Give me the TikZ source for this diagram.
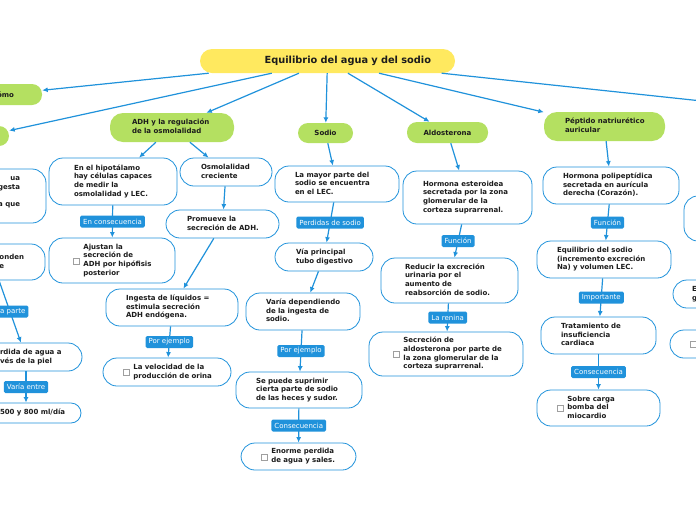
\documentclass[tikz,border=0pt]{standalone}
\usepackage{fontspec}
\setmainfont{DejaVu Sans}
\usetikzlibrary{%
        arrows.meta,
    }
\definecolor{mmblue}{HTML}{2092DB}
\definecolor{mmgreen}{HTML}{B4E061}
\definecolor{mmyellow}{HTML}{FFE95F}
\definecolor{ink}{HTML}{1C1C1C}
\newcommand{\ml}[1]{\begin{tabular}{@{}l@{}}#1\end{tabular}}
\newcommand{\mr}[1]{\begin{tabular}{@{}r@{}}#1\end{tabular}}
\newcommand{\chk}{%
    \raisebox{-1.7pt}{\setlength{\fboxsep}{0pt}\setlength{\fboxrule}{.7pt}%
    \fcolorbox{gray!75}{white}{\rule{0pt}{5.5pt}\hspace{5.5pt}}}}
\newcommand{\cml}[1]{\mbox{\chk\hspace{3.5pt}\ml{#1}}}
\newcommand{\bodyfont}{\fontsize{7}{8.7}\selectfont\bfseries}
\tikzset{%
    rootbox/.style={%
        fill=mmyellow,
        rounded corners=12pt,
        minimum height=24pt,
        inner ysep=0pt,
        align=right,
        text=ink,
        font=\fontsize{9.8}{11}\selectfont\bfseries,
    },
    idea/.style={%
        fill=mmgreen,
        rounded corners=10pt,
        inner ysep=0pt,
        text=ink,
        font=\bodyfont,
    },
    topic/.style={%
        draw=mmblue,
        line width=.8pt,
        fill=white,
        rounded corners=14pt,
        inner ysep=0pt,
        inner xsep=20pt,
        align=left,
        text=ink,
        font=\bodyfont,
    },
    tag/.style={%
        fill=mmblue,
        text=white,
        rounded corners=1.5pt,
        inner xsep=3pt,
        inner ysep=0pt,
        minimum height=12pt,
        font=\fontsize{7}{8}\selectfont,
    },
    conn/.style={%
        draw=mmblue,
        line width=1.2pt,
        -{Latex[length=5.5pt, width=5pt]},
    },
}

\begin{document}
\begin{tikzpicture}[x=1pt, y=-1pt]

    \path[use as bounding box, fill=white] (0, 0) rectangle (696, 520);

    %%%%%%%%%%%%%%%%%
    % Central topic %
    %%%%%%%%%%%%%%%%%
    \node[rootbox, text width=207pt, inner xsep=24pt]
        (root) at (327.5, 61) {Equilibrio del agua y del sodio};

    % Main branches
    \node[idea, align=right, text width=26pt, inner xsep=28pt, minimum height=21pt]
        (omo) at (1, 94.5) {ómo};
    \node[idea, minimum width=49pt, minimum height=20pt]
        (left2) at (-15.5, 136) {};
    \node[idea, align=left, text width=80pt, inner xsep=22pt,
        minimum height=29pt, rounded corners=13pt]
        (adh) at (172, 127.5) {\ml{ADH y la regulación\\de la osmolalidad}};
    \node[idea, minimum width=55pt, minimum height=20pt]
        (sodio) at (325.5, 133) {Sodio};
    \node[idea, minimum width=81pt, minimum height=21pt]
        (aldo) at (447.5, 132.5) {Aldosterona};
    \node[idea, align=left, text width=79pt, inner xsep=21pt,
        minimum height=29pt, rounded corners=13pt]
        (peptido) at (604.5, 126.5) {\ml{Péptido natriurético\\auricular}};
    \coordinate (rend) at (730, 104);

    %%%%%%%%%%%%%%%
    % Left border %
    %%%%%%%%%%%%%%%
    \node[topic, align=right, text width=44pt, inner xsep=26pt, minimum height=54pt]
        (leftA) at (-2, 196) {\mr{ua\\gesta\\\mbox{}\\a que\\\mbox{}}};
    \node[topic, align=right, text width=63pt, inner xsep=21pt, minimum height=36pt]
        (leftB) at (-7.5, 262) {\ml{onden\\e}};
    \node[topic, text width=52pt, inner xsep=30pt, minimum height=28pt]
        (perdida) at (26, 357) {\ml{rdida de agua a\\vés de la piel}};
    \node[topic, text width=52pt, inner xsep=29pt, minimum height=20pt,
        rounded corners=10pt]
        (rango) at (26, 413) {\ml{500 y 800 ml/día}};

    %%%%%%%
    % ADH %
    %%%%%%%
    \node[topic, text width=78pt, inner xsep=25pt, minimum height=47pt]
        (hipo) at (113, 181.5)
        {\ml{En el hipotálamo\\hay células capaces\\de medir la\\osmolalidad y LEC.}};
    \node[topic, text width=78pt, inner xsep=24pt, minimum height=45pt]
        (ajustan) at (112, 260.5)
        {\cml{Ajustan la\\secreción de\\ADH por hipófisis\\posterior}};
    \node[topic, text width=50pt, inner xsep=21pt, minimum height=28pt]
        (osmo) at (226, 172) {\ml{Osmolalidad\\creciente}};
    \node[topic, text width=71pt, inner xsep=21pt, minimum height=28pt]
        (promueve) at (222.5, 224) {\ml{Promueve la\\secreción de ADH.}};
    \node[topic, text width=92pt, minimum height=37pt]
        (ingesta) at (172, 307.5)
        {\ml{Ingesta de líquidos =\\estimula secreción\\ADH endógena.}};
    \node[topic, text width=88pt, minimum height=28pt]
        (velocidad) at (167, 372)
        {\cml{La velocidad de la\\producción de orina}};

    %%%%%%%%%
    % Sodio %
    %%%%%%%%%
    \node[topic, text width=84pt, minimum height=36pt]
        (lec) at (337, 184)
        {\ml{La mayor parte del\\sodio se encuentra\\en el LEC.}};
    \node[topic, text width=56pt, inner xsep=21pt, minimum height=28pt]
        (via) at (324, 257) {\ml{Vía principal\\tubo digestivo}};
    \node[topic, text width=74pt, minimum height=37pt]
        (varia) at (303, 311.5)
        {\ml{Varía dependiendo\\de la ingesta de\\sodio.}};
    \node[topic, text width=86pt, minimum height=36pt]
        (suprimir) at (299, 390)
        {\ml{Se puede suprimir\\cierta parte de sodio\\de las heces y sudor.}};
    \node[topic, text width=75pt, minimum height=27pt]
        (enorme) at (298.5, 456.5)
        {\cml{Enorme perdida\\de agua y sales.}};

    %%%%%%%%%%%%%%%
    % Aldosterona %
    %%%%%%%%%%%%%%%
    \node[topic, text width=89pt, minimum height=53pt]
        (hormona) at (467.5, 197.5)
        {\ml{Hormona esteroidea\\secretada por la zona\\glomerular de la\\corteza suprarrenal.}};
    \node[topic, text width=89pt, inner xsep=24pt, minimum height=45pt]
        (reducir) at (449.5, 280.5)
        {\ml{Reducir la excreción\\urinaria por el\\aumento de\\reabsorción de sodio.}};
    \node[topic, text width=106pt, inner xsep=24pt, minimum height=44pt]
        (secrecion) at (446, 354)
        {\cml{Secreción de\\aldosterona por parte de\\la zona glomerular de la\\corteza suprarrenal.}};

    %%%%%%%%%%%
    % Péptido %
    %%%%%%%%%%%
    \node[topic, text width=96pt, minimum height=37pt]
        (poli) at (611, 185.5)
        {\ml{Hormona polipeptídica\\secretada en aurícula\\derecha (Corazón).}};
    \node[topic, text width=94pt, minimum height=37pt]
        (equil) at (604, 259.5)
        {\ml{Equilibrio del sodio\\(incremento excreción\\Na) y volumen LEC.}};
    \node[topic, text width=75pt, minimum height=37pt]
        (trat) at (598.5, 335.5)
        {\ml{Tratamiento de\\insuficiencia\\cardiaca}};
    \node[topic, text width=83pt, minimum height=36pt]
        (sobre) at (598.5, 408)
        {\cml{Sobre carga\\bomba del\\miocardio}};

    %%%%%%%%%%%%%%%%
    % Right border %
    %%%%%%%%%%%%%%%%
    \node[topic, minimum width=96pt, minimum height=45pt] (rA) at (732, 218.5) {};
    \node[topic, text width=69pt, inner xsep=19pt, minimum height=28pt]
        (rB) at (726.5, 294) {\ml{E\\g}};
    \node[topic, text width=70pt, minimum height=28pt]
        (rC) at (725, 344) {\chk};

    %%%%%%%%%%%%%%
    % Connectors %
    %%%%%%%%%%%%%%
    \foreach \child in {omo, left2, adh, sodio, aldo, peptido, rend}{%
        \draw[conn] (root) -- (\child);
    };
    \draw[conn] (adh) -- (hipo);
    \draw[conn] (adh) -- (osmo);
    \draw[conn] (osmo) -- (promueve);
    \draw[conn] (promueve) -- (ingesta);
    \draw[conn] (sodio) -- (lec);
    \draw[conn] (via) -- (varia);
    \draw[conn] (aldo) -- (hormona);
    \draw[conn] (peptido) -- (poli);

    % Tagged connectors
    \foreach \from/\to/\lab in {%
        leftB/perdida/tra parte,
        perdida/rango/Varía entre,
        hipo/ajustan/En consecuencia,
        ingesta/velocidad/Por ejemplo,
        lec/via/Perdidas de sodio,
        varia/suprimir/Por ejemplo,
        suprimir/enorme/Consecuencia,
        hormona/reducir/Función,
        reducir/secrecion/La renina,
        poli/equil/Función,
        equil/trat/Importante,
        trat/sobre/Consecuencia%
    }{%
        \draw[conn] (\from) -- (\to)
            node[tag, midway] (tag-\to) {\lab};
    };

\end{tikzpicture}
\end{document}
